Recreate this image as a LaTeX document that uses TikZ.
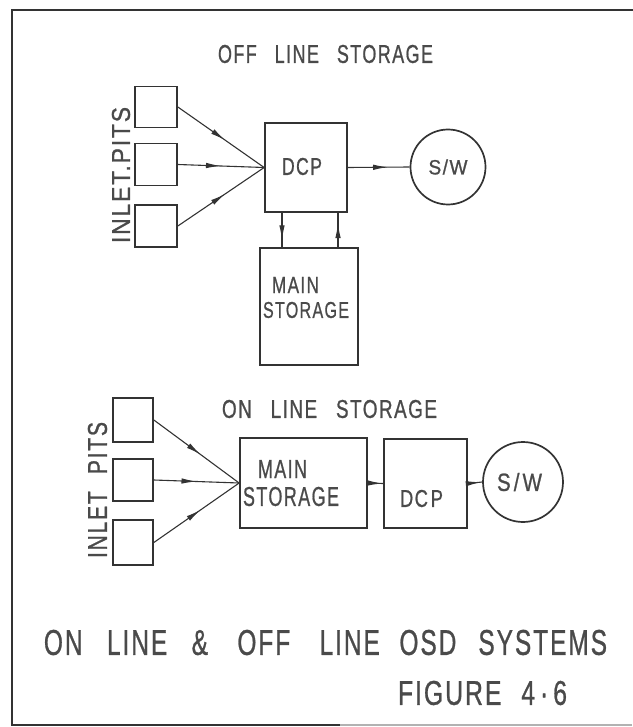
\documentclass[tikz,border=0pt]{standalone}
\usepackage{fontspec}
\usepackage{graphicx}
\newfontfamily\lett{Liberation Sans}[LetterSpace=8,FakeBold=1.0]
\newcommand{\fitt}[3]{\resizebox{#1}{#2}{\lett #3}}
\usetikzlibrary{arrows.meta,decorations.markings}
\definecolor{ink}{HTML}{333333}
\definecolor{txt}{HTML}{4a4a4a}
\tikzset{
  box/.style={draw=ink, line width=1.7pt, inner sep=0pt},
  ring/.style={circle, draw=ink, line width=1.7pt, inner sep=0pt, text=txt},
  lab/.style={text=txt, inner sep=0pt},
  flow/.style={draw=ink, line width=1.1pt, postaction={decorate},
    decoration={markings, mark=at position #1 with {\arrow{Latex[length=15pt,width=5.5pt]}}}},
  flow/.default=0.55,
  frame/.style={draw=ink, line width=2.4pt}
}
\begin{document}
\begin{tikzpicture}[x=1pt,y=-1pt]
\useasboundingbox (0,0) rectangle (632,727);
% frame
\coordinate (fa) at (632,10);
\coordinate (fb) at (12,10);
\coordinate (fc) at (12,725);
\coordinate (fd) at (340,725);
\coordinate (fe) at (632,725);
\draw[frame, line cap=rect] (fa) -- (fb) -- (fc) -- (fd);
\draw[frame, draw=black!30] (fd) -- (fe);

% ---------- OFF LINE STORAGE ----------
\node[lab] (ttitle) at (325.5,54) {\fitt{215pt}{18pt}{OFF\hspace{1em}LINE\hspace{1em}STORAGE}};
\node[box, minimum width=42pt, minimum height=41pt] (ti1) at (156,107) {};
\node[box, minimum width=42pt, minimum height=42pt] (ti2) at (156,164.5) {};
\node[box, minimum width=42pt, minimum height=42pt] (ti3) at (156,226) {};
\node[lab, rotate=90] (tpits) at (121,175) {\fitt{136pt}{18pt}{INLET.PITS}};
\node[box, minimum width=82pt, minimum height=89pt] (tdcp) at (306,167.5) {};
\node[lab] (tdcpl) at (302,166.5) {\fitt{40pt}{17pt}{DCP}};
\node[ring, minimum size=75pt] (tsw) at (448,167) {\fitt{39pt}{15pt}{S/W}};
\node[box, minimum width=98pt, minimum height=117pt] (tms) at (309,306.5) {};
\node[lab] (tmsa) at (295.5,285) {\fitt{47pt}{16pt}{MAIN}};
\node[lab] (tmsb) at (306,310) {\fitt{86pt}{16pt}{STORAGE}};
\draw[flow=0.55] (ti1.east) -- (tdcp.west);
\draw[flow=0.5] (ti2.east) -- (tdcp.west);
\draw[flow=0.55] (ti3.east) -- (tdcp.west);
\draw[flow=0.65] (tdcp.east) -- (tsw.west);
\draw[flow=0.8] ([xshift=-24pt]tdcp.south) -- ([xshift=-24pt]tdcp.south |- tms.north);
\draw[flow=0.7] ([xshift=32pt]tdcp.south |- tms.north) -- ([xshift=32pt]tdcp.south);

% ---------- ON LINE STORAGE ----------
\node[lab] (btitle) at (329.5,409) {\fitt{215pt}{18pt}{ON\hspace{1em}LINE\hspace{1em}STORAGE}};
\node[box, minimum width=40pt, minimum height=44pt] (bi1) at (133,420) {};
\node[box, minimum width=40pt, minimum height=42pt] (bi2) at (133,480) {};
\node[box, minimum width=40pt, minimum height=45pt] (bi3) at (133,542.5) {};
\node[lab, rotate=90] (bpits) at (97.5,490) {\fitt{136pt}{19pt}{INLET\hspace{0.8em}PITS}};
\node[box, minimum width=127pt, minimum height=90pt] (bms) at (303.5,483) {};
\node[lab] (bmsa) at (282.5,469) {\fitt{49pt}{18pt}{MAIN}};
\node[lab] (bmsb) at (291,496.5) {\fitt{96pt}{19pt}{STORAGE}};
\node[box, minimum width=83pt, minimum height=89pt] (bdcp) at (425.5,483.5) {};
\node[lab] (bdcpl) at (421.5,498.5) {\fitt{43pt}{17pt}{DC\hspace{0.15em}P}};
\node[ring, minimum size=80pt] (bsw) at (523,482) {};
\node[lab] (bswl) at (519.5,482) {\fitt{45pt}{18pt}{S\hspace{0.15em}/\hspace{0.15em}W}};
\draw[flow=0.55] (bi1.east) -- (bms.west);
\draw[flow=0.5] (bi2.east) -- (bms.west);
\draw[flow=0.55] (bi3.east) -- (bms.west);
\draw[flow=0.95] (bms.east) -- (bdcp.west);
\draw[flow=0.9] (bdcp.east) -- (bsw.west);

% ---------- captions ----------
\node[lab] (cap) at (325.5,642.5) {\fitt{563pt}{25pt}{ON\hspace{1em}LINE\hspace{1em}\&\hspace{1.2em}OFF\hspace{1.2em}LINE\hspace{0.8em}OSD\hspace{0.9em}SYSTEMS}};
\node[lab] (fig) at (482.5,693) {\fitt{169pt}{24pt}{FIGURE\hspace{0.8em}4\hspace{0.2em}·\hspace{0.2em}6}};
\end{tikzpicture}
\end{document}
